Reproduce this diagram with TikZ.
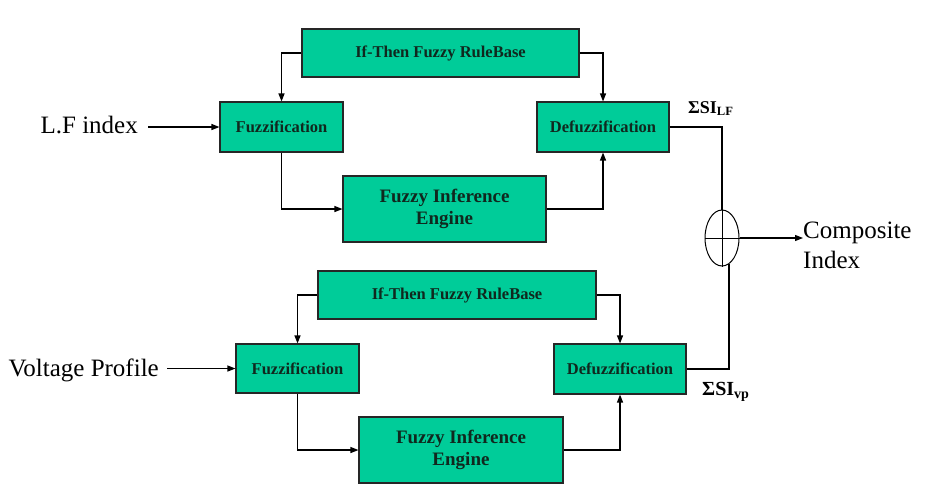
\documentclass[tikz,border=0pt]{standalone}
\usepackage{fontspec}
\setmainfont{Liberation Serif}
\usetikzlibrary{arrows.meta,shapes.geometric,calc}
\definecolor{boxgreen}{RGB}{0,204,153}
\definecolor{boxtext}{RGB}{16,40,30}
\begin{document}
\begin{tikzpicture}[x=1pt,y=-1pt,
  blk/.style={draw=black!85,line width=1.1pt,fill=boxgreen,text=boxtext,inner sep=0pt,font=\fontsize{16.5}{18}\selectfont\bfseries},
  fiebox/.style={blk,align=center,font=\fontsize{19}{22}\selectfont\bfseries},
  conn/.style={line width=1.2pt},
  arr/.style={conn,-{Triangle[length=8pt,width=6pt]}},
  lbl/.style={inner sep=0pt,font=\fontsize{25}{30}\selectfont},
  sumlbl/.style={inner sep=0pt,anchor=base west,font=\bfseries}]
\useasboundingbox (0,0) rectangle (925,488);
% top branch
\node[blk,minimum width=277pt,minimum height=48pt] (rb1) at (440.5,53) {If-Then Fuzzy RuleBase};
\node[blk,minimum width=123pt,minimum height=50pt] (fz1) at (281.5,127) {Fuzzification};
\node[fiebox,minimum width=203pt,minimum height=66pt] (fie1) at (444.5,209) {Fuzzy Inference\\Engine};
\node[blk,minimum width=132pt,minimum height=50pt] (dz1) at (603,127) {Defuzzification};
% bottom branch
\node[blk,minimum width=278pt,minimum height=48pt] (rb2) at (457,295) {If-Then Fuzzy RuleBase};
\node[blk,minimum width=123pt,minimum height=49pt] (fz2) at (297.5,368.5) {Fuzzification};
\node[fiebox,minimum width=204pt,minimum height=66pt] (fie2) at (461,450) {Fuzzy Inference\\Engine};
\node[blk,minimum width=132pt,minimum height=50pt] (dz2) at (620,369) {Defuzzification};
% summing junction
\node[ellipse,draw,line width=1pt,minimum width=34pt,minimum height=56pt,inner sep=0pt] (sum) at (722,238) {};
\draw[line width=1pt] (sum.west) -- (sum.east);
\draw[line width=1pt] (sum.north) -- (sum.south);
% labels
\node[lbl,anchor=base east] (lf) at (138,133) {L.F index};
\node[lbl,anchor=base east] (vp) at (159,376) {Voltage Profile};
\node[lbl,anchor=base west] (ci1) at (803,238) {Composite};
\node[lbl,anchor=base west] (ci2) at (803,268) {Index};
\node[sumlbl,font=\fontsize{18}{20}\selectfont\bfseries] (s1) at (688,113) {ΣSI\textsubscript{LF}};
\node[sumlbl,font=\fontsize{20}{22}\selectfont\bfseries] (s2) at (702,395) {ΣSI\textsubscript{vp}};
% connectors top
\draw[arr,shorten <=10pt] (lf.east |- fz1.west) -- (fz1.west);
\draw[arr] (rb1.west) -| (fz1.north);
\draw[arr] (rb1.east) -| (dz1.north);
\draw[arr] (fz1.south) |- (fie1.west);
\draw[arr] (fie1.east) -| (dz1.south);
\draw[conn] (dz1.east) -| (sum.north);
% connectors bottom
\draw[arr,shorten <=8pt] (vp.east |- fz2.west) -- (fz2.west);
\draw[arr] (rb2.west) -| (fz2.north);
\draw[arr] (rb2.east) -| (dz2.north);
\draw[arr] (fz2.south) |- (fie2.west);
\draw[arr] (fie2.east) -| (dz2.south);
\draw[conn] (dz2.east) -| (sum.-75);
% output
\draw[arr] (sum.east) -- (sum.east -| ci1.west);
\end{tikzpicture}
\end{document}
